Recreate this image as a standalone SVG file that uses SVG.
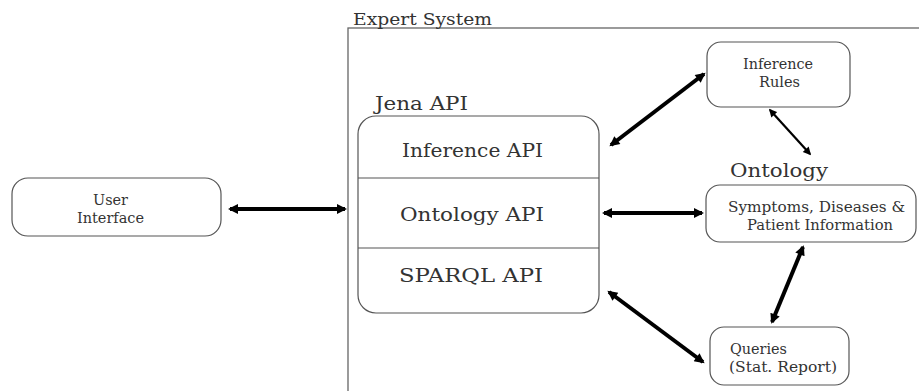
<svg xmlns="http://www.w3.org/2000/svg" width="919" height="391" viewBox="0 0 919 391">
<style>
text{font-family:"DejaVu Serif",serif;fill:#333}
.box{fill:#fff;stroke:#555;stroke-width:1.2}
.c{stroke:#000;fill:none}
</style>
<defs>
<marker id="ah" viewBox="0 0 10 10" refX="8" refY="5" markerWidth="12" markerHeight="10" markerUnits="userSpaceOnUse" orient="auto-start-reverse">
<path d="M0,0 L10,5 L0,10 z" fill="#000"/>
</marker>
<marker id="ahs" viewBox="0 0 10 10" refX="8" refY="5" markerWidth="9" markerHeight="8" markerUnits="userSpaceOnUse" orient="auto-start-reverse">
<path d="M0,0 L10,5 L0,10 z" fill="#000"/>
</marker>
</defs>
<rect width="919" height="391" fill="#fff"/>
<g id="expert-system">
<rect x="348" y="28" width="580" height="380" fill="none" stroke="#666" stroke-width="1.3"/>
<text x="353" y="25" font-size="16" textLength="139" lengthAdjust="spacingAndGlyphs">Expert System</text>
</g>
<g id="user-interface">
<rect class="box" x="12" y="178" width="209" height="58" rx="16"/>
<text x="93" y="205" font-size="14" textLength="35" lengthAdjust="spacingAndGlyphs">User</text>
<text x="77" y="223" font-size="14" textLength="67" lengthAdjust="spacingAndGlyphs">Interface</text>
</g>
<g id="jena-api">
<text x="375" y="110" font-size="18" textLength="93" lengthAdjust="spacingAndGlyphs">Jena API</text>
<rect class="box" x="358" y="116" width="241" height="197" rx="18"/>
<line x1="358" y1="178" x2="599" y2="178" stroke="#555" stroke-width="1.2"/>
<line x1="358" y1="248" x2="599" y2="248" stroke="#555" stroke-width="1.2"/>
<text x="402" y="157" font-size="19" textLength="141" lengthAdjust="spacingAndGlyphs">Inference API</text>
<text x="400" y="221" font-size="19" textLength="144" lengthAdjust="spacingAndGlyphs">Ontology API</text>
<text x="399" y="282" font-size="19" textLength="144" lengthAdjust="spacingAndGlyphs">SPARQL API</text>
</g>
<g id="inference-rules">
<rect class="box" x="707" y="42" width="143" height="65" rx="14"/>
<text x="743" y="69" font-size="14" textLength="70" lengthAdjust="spacingAndGlyphs">Inference</text>
<text x="759" y="87" font-size="14" textLength="41" lengthAdjust="spacingAndGlyphs">Rules</text>
</g>
<g id="ontology">
<text x="730" y="177" font-size="18" textLength="98" lengthAdjust="spacingAndGlyphs">Ontology</text>
<rect class="box" x="706" y="185" width="210" height="57" rx="14"/>
<text x="728" y="212" font-size="14" textLength="177" lengthAdjust="spacingAndGlyphs">Symptoms, Diseases &amp;</text>
<text x="747" y="230" font-size="14" textLength="146" lengthAdjust="spacingAndGlyphs">Patient Information</text>
</g>
<g id="queries">
<rect class="box" x="710" y="327" width="139" height="58" rx="14"/>
<text x="730" y="354" font-size="14" textLength="57" lengthAdjust="spacingAndGlyphs">Queries</text>
<text x="729" y="372" font-size="14" textLength="108" lengthAdjust="spacingAndGlyphs">(Stat. Report)</text>
</g>
<g id="connectors">
<line class="c" x1="230" y1="209" x2="345" y2="209" stroke-width="4" marker-start="url(#ah)" marker-end="url(#ah)"/>
<line class="c" x1="611" y1="145" x2="704" y2="74" stroke-width="4" marker-start="url(#ah)" marker-end="url(#ah)"/>
<line class="c" x1="770" y1="110" x2="810" y2="154" stroke-width="2.2" marker-start="url(#ahs)" marker-end="url(#ahs)"/>
<line class="c" x1="604" y1="213" x2="702" y2="213" stroke-width="4" marker-start="url(#ah)" marker-end="url(#ah)"/>
<line class="c" x1="803" y1="247" x2="772" y2="322" stroke-width="4" marker-start="url(#ah)" marker-end="url(#ah)"/>
<line class="c" x1="609" y1="292" x2="703" y2="362" stroke-width="4" marker-start="url(#ah)" marker-end="url(#ah)"/>
</g>
</svg>
